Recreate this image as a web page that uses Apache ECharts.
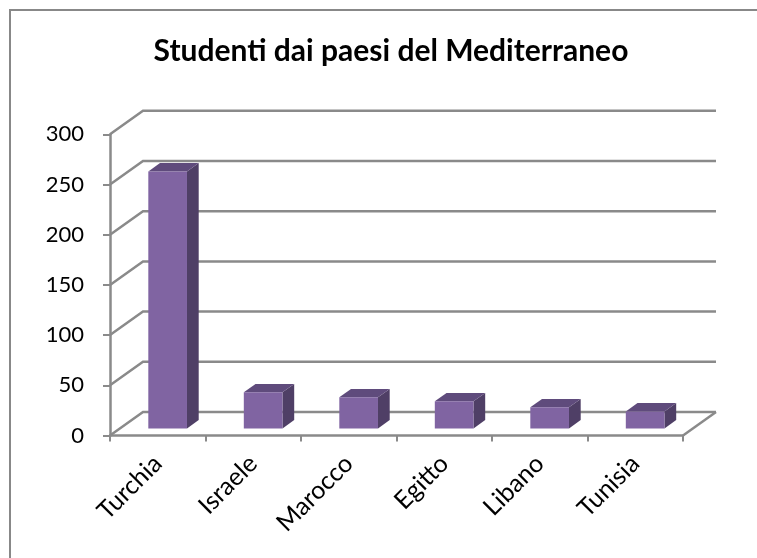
<!DOCTYPE html>
<html>
<head>
<meta charset="utf-8">
<script src="https://cdn.jsdelivr.net/npm/echarts@6/dist/echarts.min.js"></script>
<style>
html,body{margin:0;padding:0;background:#fff;}
#chart{width:757px;height:558px;}
</style>
</head>
<body>
<div id="chart"></div>
<script>
const categories = ['Turchia', 'Israele', 'Marocco', 'Egitto', 'Libano', 'Tunisia'];
const values = [256, 36, 31, 27, 21, 17];
const yTicks = [0, 50, 100, 150, 200, 250, 300];
const titleText = 'Studenti dai paesi del Mediterraneo';

// style constants (3D look)
const DX = 33, DY = -23.5;       // depth offset of back wall
const F1 = 0.30, F2 = 0.655;     // bar front/back depth fraction
const BAR_W = 0.405;             // bar width as share of band
const GRID_COLOR = '#8a8a8a';
const FONT = 'Lato, "Open Sans", sans-serif';

const chart = echarts.init(document.getElementById('chart'), null, {renderer: 'canvas'});

function wallItem(params, api) {
  const v = api.value(0);
  const band = api.size([1, 0])[0];
  const p0 = api.coord([0, v]);
  const pN = api.coord([categories.length - 1, v]);
  const xL = p0[0] - band / 2;
  const xR = pN[0] + band / 2;
  const y = p0[1];
  const children = [{
    type: 'polyline',
    shape: {points: [[xL, y], [xL + DX, y + DY], [xR + DX, y + DY]]},
    style: {stroke: GRID_COLOR, lineWidth: 2.5, fill: null}
  }];
  if (v === 0) {
    children.push({
      type: 'line',
      shape: {x1: xR, y1: y, x2: xR + DX, y2: y + DY},
      style: {stroke: GRID_COLOR, lineWidth: 2.5}
    });
  }
  return {type: 'group', children: children};
}

function barItem(params, api) {
  const idx = api.value(0);
  const val = api.value(1);
  const band = api.size([1, 0])[0];
  const top = api.coord([idx, val]);
  const base = api.coord([idx, 0]);
  const w = band * BAR_W;
  const fx = DX * F1, fy = DY * F1;
  const ddx = DX * (F2 - F1), ddy = DY * (F2 - F1);
  const xl = top[0] - w / 2 + fx, xr = top[0] + w / 2 + fx;
  const yt = top[1] + fy, yb = base[1] + fy;
  return {
    type: 'group',
    children: [
      {type: 'polygon', shape: {points: [[xr, yt], [xr + ddx, yt + ddy], [xr + ddx, yb + ddy], [xr, yb]]},
       style: {fill: '#4f3f66'}},
      {type: 'polygon', shape: {points: [[xl, yt], [xr, yt], [xr + ddx, yt + ddy], [xl + ddx, yt + ddy]]},
       style: {fill: '#5f4b7c'}},
      {type: 'rect', shape: {x: xl, y: yt, width: w, height: yb - yt},
       style: {fill: '#8064a2'}}
    ]
  };
}

const option = {
  backgroundColor: '#ffffff',
  animation: false,
  title: {
    text: titleText,
    left: 386,
    textAlign: 'center',
    top: 31,
    textStyle: {fontFamily: FONT, fontWeight: 'bold', fontSize: 30, color: '#000'}
  },
  graphic: [{
    type: 'rect',
    shape: {x: 10, y: 10, width: 800, height: 600},
    style: {fill: null, stroke: '#888888', lineWidth: 2},
    z: 0, silent: true
  }],
  grid: {left: 110, top: 134.3, right: 74, bottom: 122.5, containLabel: false},
  xAxis: {
    type: 'category',
    data: categories,
    boundaryGap: true,
    axisLine: {show: true, lineStyle: {color: GRID_COLOR, width: 2.5}},
    axisTick: {show: true, length: 6, lineStyle: {color: GRID_COLOR, width: 2}},
    axisLabel: {rotate: 45, margin: 24, fontFamily: FONT, fontSize: 25, color: '#000', interval: 0},
    splitLine: {show: false}
  },
  yAxis: {
    type: 'value',
    min: 0, max: 300, interval: 50,
    axisLine: {show: true, lineStyle: {color: GRID_COLOR, width: 2.5}},
    axisTick: {show: true, length: 7, lineStyle: {color: GRID_COLOR, width: 2}},
    axisLabel: {margin: 26, fontFamily: FONT, fontSize: 22, color: '#000'},
    splitLine: {show: false}
  },
  series: [
    {
      type: 'custom',
      renderItem: wallItem,
      data: yTicks.map(v => [v]),
      encode: {y: 0},
      z: 1,
      silent: true
    },
    {
      type: 'custom',
      renderItem: barItem,
      data: values.map((v, i) => [i, v]),
      encode: {x: 0, y: 1},
      z: 3
    }
  ]
};
chart.setOption(option);
</script>
</body>
</html>
